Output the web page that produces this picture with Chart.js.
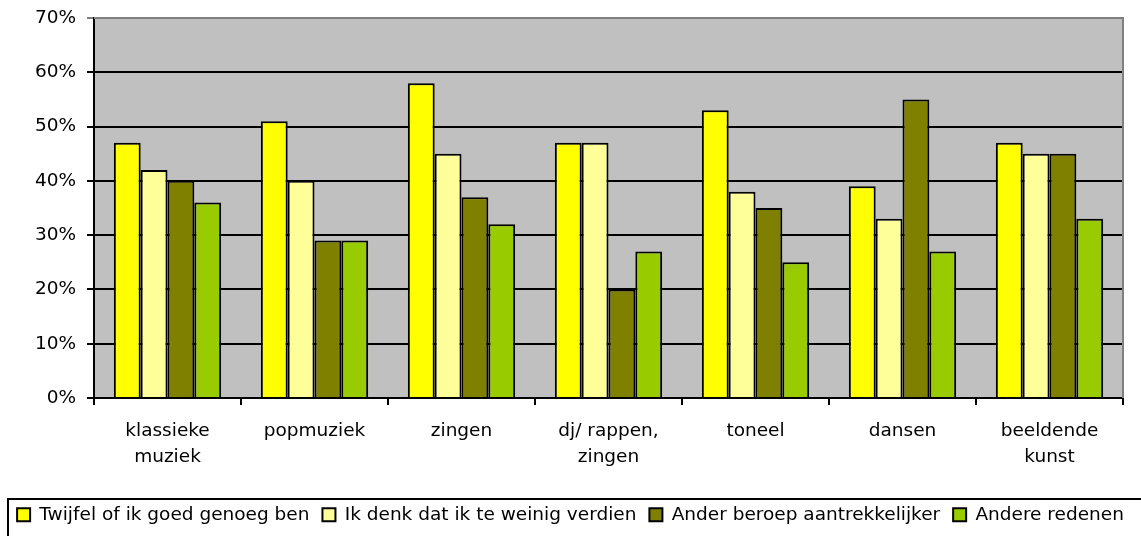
<!DOCTYPE html>
<html lang="nl">
<head>
    <meta charset="UTF-8">
    <title>Redenen per kunstvorm</title>
    <script src="https://cdn.jsdelivr.net/npm/chart.js"></script>
    <style>
        html, body { margin: 0; padding: 0; background: #fff; }
        #wrap { width: 1141px; height: 536px; }
    </style>
</head>
<body>
    <div id="wrap"><canvas id="redenenChart"></canvas></div>

    <script>
        // categorieën (x-as)
        const categories = [
            ['klassieke', 'muziek'],
            'popmuziek',
            'zingen',
            ['dj/ rappen,', 'zingen'],
            'toneel',
            'dansen',
            ['beeldende', 'kunst']
        ];

        // series (percentages)
        const twijfel = [47, 51, 58, 47, 53, 39, 47];
        const teWeinigVerdien = [42, 40, 45, 47, 38, 33, 45];
        const anderBeroep = [40, 29, 37, 20, 35, 55, 45];
        const andereRedenen = [36, 29, 32, 27, 25, 27, 33];

        const seriesNames = [
            'Twijfel of ik goed genoeg ben',
            'Ik denk dat ik te weinig verdien',
            'Ander beroep aantrekkelijker',
            'Andere redenen'
        ];

        // y-as
        const yMin = 0;
        const yMax = 70;
        const yStep = 10;

        const fontFam = '"DejaVu Sans", Verdana, sans-serif';
        const fontSize = 18.5;

        // grijze plotachtergrond + rand rechts/boven, kader om legenda
        const plotBg = {
            id: 'plotBg',
            beforeDraw(chart) {
                const { ctx, chartArea: a } = chart;
                ctx.save();
                ctx.fillStyle = '#C0C0C0';
                ctx.fillRect(a.left, a.top, a.right - a.left, a.bottom - a.top);
                ctx.restore();
            },
            afterDraw(chart) {
                const { ctx, chartArea: a } = chart;
                ctx.save();
                ctx.strokeStyle = '#808080';
                ctx.lineWidth = 2;
                ctx.beginPath();
                ctx.moveTo(a.left, a.top);
                ctx.lineTo(a.right, a.top);
                ctx.lineTo(a.right, a.bottom);
                ctx.stroke();

                // kader legenda
                const hb = chart.legend.legendHitBoxes[0];
                const midY = hb.top + hb.height / 2;
                ctx.strokeStyle = '#000';
                ctx.lineWidth = 2;
                ctx.strokeRect(8, Math.round(midY - 15.5), chart.width, 60);
                ctx.restore();
            }
        };

        const makeSet = (label, data, color) => ({
            label: label,
            data: data,
            backgroundColor: color,
            borderColor: '#000',
            borderWidth: 2,
            borderSkipped: 'bottom',
            barPercentage: 1,
            categoryPercentage: 0.73
        });

        new Chart(document.getElementById('redenenChart').getContext('2d'), {
            type: 'bar',
            data: {
                labels: categories,
                datasets: [
                    makeSet(seriesNames[0], twijfel, '#FFFF00'),
                    makeSet(seriesNames[1], teWeinigVerdien, '#FFFF99'),
                    makeSet(seriesNames[2], anderBeroep, '#808000'),
                    makeSet(seriesNames[3], andereRedenen, '#99CC00')
                ]
            },
            options: {
                responsive: true,
                maintainAspectRatio: false,
                animation: false,
                layout: { padding: { top: 18, right: 0, bottom: 2, left: 0 } },
                plugins: {
                    tooltip: { enabled: false },
                    legend: {
                        position: 'bottom',
                        labels: {
                            color: '#000',
                            font: { family: fontFam, size: fontSize },
                            boxWidth: 13,
                            boxHeight: 13,
                            padding: 13
                        }
                    }
                },
                scales: {
                    x: {
                        afterFit(scale) { scale.height = 94.5; },
                        grid: {
                            offset: true,
                            drawOnChartArea: false,
                            drawTicks: true,
                            tickLength: 7,
                            color: '#000',
                            lineWidth: 2
                        },
                        border: { color: '#000', width: 2 },
                        ticks: {
                            color: '#000',
                            padding: 13,
                            maxRotation: 0,
                            autoSkip: false,
                            font: { family: fontFam, size: fontSize, lineHeight: 1.4 }
                        }
                    },
                    y: {
                        min: yMin,
                        max: yMax,
                        afterFit(scale) {
                            scale.width = 94;
                            scale.paddingTop = 0;
                            scale.paddingBottom = 0;
                        },
                        grid: {
                            color: ctx => (ctx.tick && ctx.tick.value === yMax) ? '#808080' : '#000',
                            lineWidth: 2,
                            tickLength: 7,
                            drawTicks: true
                        },
                        border: { color: '#000', width: 2 },
                        ticks: {
                            stepSize: yStep,
                            color: '#000',
                            padding: 11,
                            font: { family: fontFam, size: fontSize },
                            callback: v => v + '%'
                        }
                    },
                    // lege as rechts: alleen ruimte naast het plotvlak
                    yRight: {
                        position: 'right',
                        afterFit(scale) {
                            scale.width = 18;
                            scale.paddingTop = 0;
                            scale.paddingBottom = 0;
                        },
                        grid: { drawOnChartArea: false, drawTicks: false },
                        border: { display: false },
                        ticks: { display: false }
                    }
                }
            },
            plugins: [plotBg]
        });
    </script>
</body>
</html>
